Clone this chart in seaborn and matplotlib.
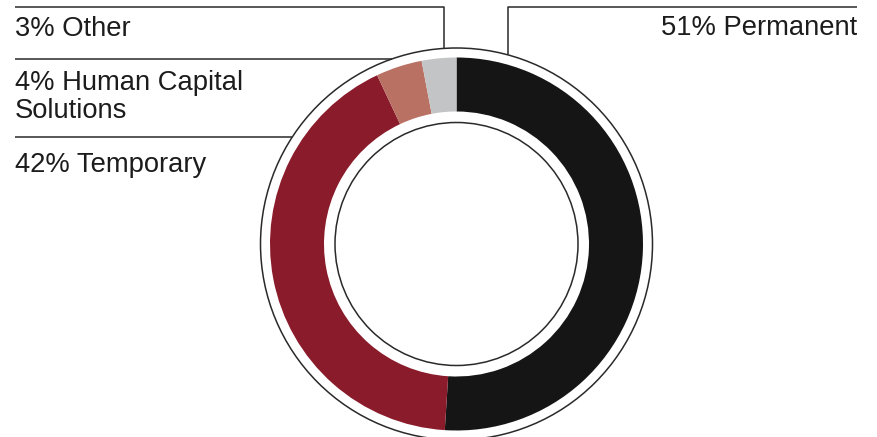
import numpy as np
import matplotlib
matplotlib.use("Agg")
import matplotlib.pyplot as plt
import seaborn as sns

# revenue mix by segment (percent)
segments = ["Permanent", "Temporary", "Human Capital\nSolutions", "Other"]
shares = [51, 42, 4, 3]
seg_colors = ["#151515", "#8a1b2b", "#b97164", "#c2c4c5"]

sns.set_theme(style="white")
plt.rcParams["font.family"] = ["Liberation Sans", "DejaVu Sans"]

W, H = 877, 437
fig = plt.figure(figsize=(W / 100, H / 100), dpi=100)
ax = fig.add_axes([0, 0, 1, 1])

# work in pixel-like coords, y measured from the top of the image
cx, cy = 456.5, H - 244
r_seg, w_seg = 186.5, 54
r_out, r_in = 196, 121.5

ax.pie(shares, colors=seg_colors, startangle=90, counterclock=False,
       radius=r_seg, center=(cx, cy), wedgeprops=dict(width=w_seg, linewidth=0))

lc = "#2a2a2a"
for r in (r_out, r_in):
    ax.add_patch(plt.Circle((cx, cy), r, fill=False, ec=lc, lw=1.1))


def ring_y(x):
    # top of the outer ring at a given x (image coords)
    return 244 - np.sqrt(r_out ** 2 - (x - cx) ** 2)


def ring_x(y):
    # left side of the outer ring at a given y (image coords)
    return cx - np.sqrt(r_out ** 2 - (244 - y) ** 2)


def line(xs, ys):
    ax.plot(xs, [H - y for y in ys], color=lc, lw=1.1, solid_capstyle="butt")


# leader lines
line([15, 444, 444], [7, 7, ring_y(444)])
line([508, 508, 857], [ring_y(508), 7, 7])
line([15, ring_x(59)], [59, 59])
line([15, ring_x(137)], [137, 137])

fs = 19.7
tc = "#1c1c1c"
lab = {s: f"{v}% {s}" for s, v in zip(segments, shares)}
ax.text(15, H - 36, lab["Other"], fontsize=fs, color=tc, va="baseline")
ax.text(15, H - 118, lab["Human Capital\nSolutions"], fontsize=fs, color=tc,
        va="baseline", linespacing=1.1)
ax.text(15, H - 172, lab["Temporary"], fontsize=fs, color=tc, va="baseline")
ax.text(857, H - 35, lab["Permanent"], fontsize=fs, color=tc, va="baseline", ha="right")

ax.set_xlim(0, W)
ax.set_ylim(0, H)
ax.set_aspect("equal")
ax.axis("off")

fig.savefig("out.png", dpi=100, facecolor="white")
